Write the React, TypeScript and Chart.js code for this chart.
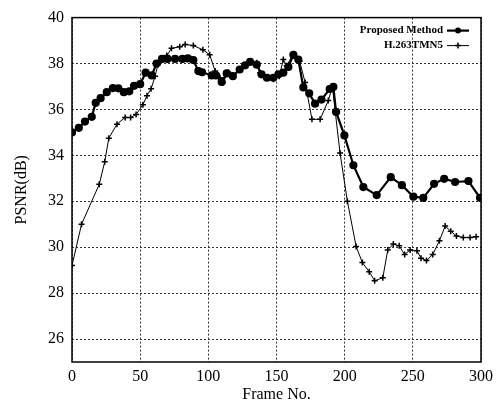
import React, { useEffect, useRef } from "react";
import { Chart, registerables } from "chart.js";

Chart.register(...registerables);

const proposedFrames = [0, 5, 9.5, 14.5, 17.4, 21, 25.5, 30, 34, 38, 42, 45.5, 50, 54, 58.5, 62, 66, 70, 75.6, 81, 85, 89, 92.7, 95.4, 102.5, 105.6, 109.8, 113.5, 118, 123, 127, 130.6, 135.5, 139, 143, 147.7, 151.4, 155, 158.7, 162.4, 166, 169.7, 174, 178.3, 183, 189, 191.7, 193.7, 199.8, 206.4, 213.7, 223.5, 233.8, 242, 250.4, 257.7, 265.6, 273, 281, 290.8, 299.3];
const proposedPsnr = [35.0, 35.2, 35.47, 35.68, 36.29, 36.49, 36.75, 36.93, 36.92, 36.75, 36.79, 37.03, 37.1, 37.6, 37.48, 38.0, 38.2, 38.2, 38.2, 38.2, 38.22, 38.15, 37.67, 37.62, 37.48, 37.48, 37.2, 37.57, 37.45, 37.74, 37.92, 38.07, 37.95, 37.53, 37.38, 37.38, 37.53, 37.6, 37.85, 38.38, 38.17, 36.96, 36.7, 36.25, 36.43, 36.89, 36.98, 35.89, 34.87, 33.57, 32.62, 32.27, 33.05, 32.7, 32.2, 32.15, 32.76, 32.98, 32.84, 32.88, 32.15];

const tmnFrames = [0, 7, 20, 24, 27, 33, 39, 43, 47, 52, 55, 58, 61, 63, 69.5, 73, 79, 83, 89, 96, 101, 105, 108.6, 110.5, 114.7, 118, 124.5, 130.6, 135.5, 138, 142, 147.7, 152, 155, 157.5, 162, 167, 171, 176, 182, 188, 191, 196.6, 202, 208.4, 213, 218, 222, 228, 231.6, 235.7, 240, 244, 248, 253, 256, 260, 264.6, 269.5, 273.7, 277.8, 282, 287, 292, 296.4];
const tmnPsnr = [29.2, 31.0, 32.74, 33.72, 34.75, 35.36, 35.65, 35.65, 35.78, 36.2, 36.6, 36.9, 37.45, 37.95, 38.35, 38.66, 38.73, 38.83, 38.78, 38.6, 38.38, 37.67, 37.38, 37.17, 37.62, 37.45, 37.81, 38.09, 38.03, 37.6, 37.4, 37.31, 37.45, 38.17, 37.9, 38.4, 38.1, 37.17, 35.57, 35.57, 36.39, 36.98, 34.1, 32.0, 30.03, 29.33, 28.93, 28.54, 28.67, 29.88, 30.14, 30.06, 29.68, 29.88, 29.85, 29.52, 29.42, 29.68, 30.28, 30.92, 30.7, 30.49, 30.42, 30.42, 30.46];

const yTicks = [26, 28, 30, 32, 34, 36, 38, 40];
const xTicks = [0, 50, 100, 150, 200, 250, 300];
const seriesNames = ["Proposed Method", "H.263TMN5"];
const xTitle = "Frame No.";
const yTitle = "PSNR(dB)";

const SERIF = '"Liberation Serif", "DejaVu Serif", serif';

const framePlugin = {
  id: "frameAndLegend",
  afterDraw(chart: any) {
    const { ctx, chartArea } = chart;
    const { left, top, right, bottom } = chartArea;
    ctx.save();
    ctx.strokeStyle = "#000";
    ctx.lineWidth = 1.5;
    ctx.setLineDash([]);
    ctx.strokeRect(left, top, right - left, bottom - top);

    // legend
    ctx.font = "bold 11px " + SERIF;
    ctx.textAlign = "right";
    ctx.textBaseline = "middle";
    ctx.fillStyle = "#000";
    const tx = right - 38;
    const lx0 = right - 34;
    const lx1 = right - 12;
    const mx = (lx0 + lx1) / 2;
    const y1 = top + 13;
    const y2 = top + 28;
    ctx.fillText(seriesNames[0], tx, y1);
    ctx.fillText(seriesNames[1], tx, y2);
    ctx.beginPath();
    ctx.lineWidth = 2.2;
    ctx.moveTo(lx0, y1);
    ctx.lineTo(lx1, y1);
    ctx.stroke();
    ctx.beginPath();
    ctx.arc(mx, y1, 3, 0, Math.PI * 2);
    ctx.fill();
    ctx.beginPath();
    ctx.lineWidth = 1;
    ctx.moveTo(lx0, y2);
    ctx.lineTo(lx1, y2);
    ctx.stroke();
    ctx.beginPath();
    ctx.lineWidth = 1.5;
    ctx.moveTo(mx, y2 - 3);
    ctx.lineTo(mx, y2 + 3);
    ctx.moveTo(mx - 3, y2);
    ctx.lineTo(mx + 3, y2);
    ctx.stroke();
    ctx.restore();
  },
};

export default function App() {
  const ref = useRef<HTMLCanvasElement>(null);
  useEffect(() => {
    if (!ref.current) return;
    const chart = new Chart(ref.current, {
      type: "line",
      data: {
        datasets: [
          {
            label: seriesNames[0],
            data: proposedFrames.map((x, i) => ({ x, y: proposedPsnr[i] })),
            borderColor: "#000",
            backgroundColor: "#000",
            borderWidth: 2.2,
            pointRadius: 3,
            pointStyle: "circle",
            pointBackgroundColor: "#000",
            pointBorderColor: "#000",
            tension: 0,
          },
          {
            label: seriesNames[1],
            data: tmnFrames.map((x, i) => ({ x, y: tmnPsnr[i] })),
            borderColor: "#000",
            backgroundColor: "#000",
            borderWidth: 1,
            pointRadius: 3,
            pointStyle: "cross",
            pointBorderWidth: 1.5,
            pointBorderColor: "#000",
            tension: 0,
          },
        ],
      },
      options: {
        animation: false,
        responsive: true,
        maintainAspectRatio: false,
        layout: { padding: { top: 12, right: 19, left: 0, bottom: 0 } },
        plugins: { legend: { display: false }, tooltip: { enabled: false } },
        scales: {
          x: {
            type: "linear",
            min: 0,
            max: 300,
            afterBuildTicks: (s: any) => {
              s.ticks = xTicks.map((v) => ({ value: v }));
            },
            afterFit: (s: any) => {
              s.height = 46;
            },
            grid: {
              color: "#333",
              lineWidth: 1,
              drawTicks: false,
            },
            border: { display: false, dash: [2, 2] },
            ticks: {
              color: "#000",
              font: { family: SERIF, size: 16 },
              padding: 5,
              maxRotation: 0,
            },
            title: {
              display: true,
              text: xTitle,
              color: "#000",
              font: { family: SERIF, size: 16 },
              padding: { top: 0, bottom: 4 },
            },
          },
          y: {
            type: "linear",
            min: 25,
            max: 40,
            afterBuildTicks: (s: any) => {
              s.ticks = yTicks.map((v) => ({ value: v }));
            },
            afterFit: (s: any) => {
              s.width = 72;
            },
            grid: {
              color: "#333",
              lineWidth: 1,
              drawTicks: false,
            },
            border: { display: false, dash: [2, 2] },
            ticks: {
              color: "#000",
              font: { family: SERIF, size: 16 },
              padding: 8,
            },
            title: {
              display: true,
              text: yTitle,
              color: "#000",
              font: { family: SERIF, size: 16 },
              padding: { top: 12, bottom: 0 },
            },
          },
        },
      },
      plugins: [framePlugin],
    });
    return () => chart.destroy();
  }, []);
  return (
    <div style={{ position: "fixed", left: 0, top: 0, width: 500, height: 408, background: "#fff" }}>
      <canvas ref={ref} />
    </div>
  );
}
